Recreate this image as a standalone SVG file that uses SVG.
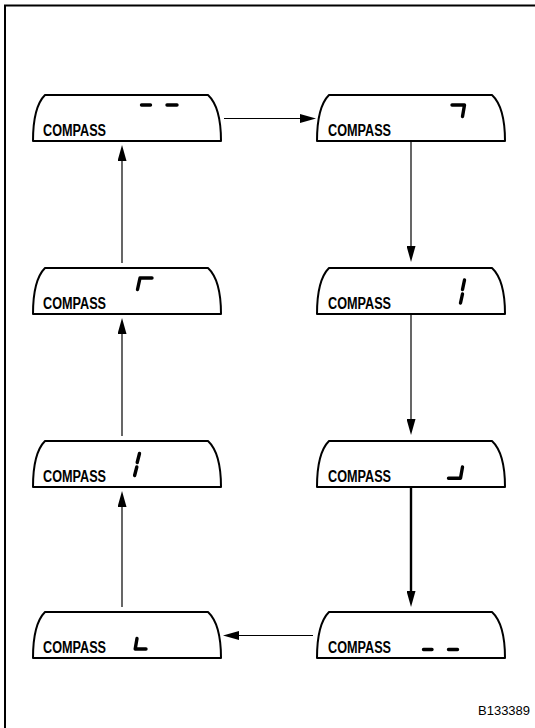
<svg xmlns="http://www.w3.org/2000/svg" xmlns:xlink="http://www.w3.org/1999/xlink" width="535" height="728" viewBox="0 0 535 728">
<style>
.disp{fill:#fff;stroke:#000;stroke-width:2;stroke-linejoin:round}
.lbl{font-family:"Liberation Sans",Arial,sans-serif;font-weight:bold;font-size:16.8px;fill:#000}
.seg{fill:none;stroke:#000;stroke-width:3.4;stroke-linecap:round;stroke-linejoin:round}
.conn{fill:none;stroke:#000;stroke-width:1.2}
.thick{stroke-width:2.4}
.code{font-family:"Liberation Sans",Arial,sans-serif;font-size:13px;fill:#000}
</style>
<defs>
<path id="disp" d="M45,95 H208 C215.5,102 221,114 221,141 H33 C33,114 38,102 45,95 Z"/>
<marker id="ah" viewBox="0 0 16 9" refX="6" refY="4.5" markerWidth="16" markerHeight="9" markerUnits="userSpaceOnUse" orient="auto">
<path d="M0,0 L16,4.5 L0,9 Z" fill="#000"/>
</marker>
</defs>
<rect width="535" height="728" fill="#fff"/>
<path d="M5,728 V5.5 H535" fill="none" stroke="#000" stroke-width="2"/>

<g id="n1">
<use xlink:href="#disp" class="disp"/>
<text class="lbl" x="43" y="135.5" textLength="63" lengthAdjust="spacingAndGlyphs">COMPASS</text>
<path class="seg" d="M141.5,105 H150.5 M167,105 H177"/>
</g>
<g id="n2" transform="translate(284,0)">
<use xlink:href="#disp" class="disp"/>
<text class="lbl" x="44" y="135.5" textLength="63" lengthAdjust="spacingAndGlyphs">COMPASS</text>
<path class="seg" d="M168,105 H180.5 L178.5,116.5"/>
</g>
<g id="n3" transform="translate(284,173)">
<use xlink:href="#disp" class="disp"/>
<text class="lbl" x="44" y="135.5" textLength="63" lengthAdjust="spacingAndGlyphs">COMPASS</text>
<path class="seg" d="M180.5,107 L178.5,116.5 M178.5,121 L176.5,130"/>
</g>
<g id="n4" transform="translate(284,346)">
<use xlink:href="#disp" class="disp"/>
<text class="lbl" x="44" y="135.5" textLength="63" lengthAdjust="spacingAndGlyphs">COMPASS</text>
<path class="seg" d="M178.5,121 L176.5,132.3 H164.5"/>
</g>
<g id="n5" transform="translate(284,517)">
<use xlink:href="#disp" class="disp"/>
<text class="lbl" x="44" y="135.5" textLength="63" lengthAdjust="spacingAndGlyphs">COMPASS</text>
<path class="seg" d="M139.5,132.5 H148 M164.5,132.5 H173.5"/>
</g>
<g id="n6" transform="translate(0,517)">
<use xlink:href="#disp" class="disp"/>
<text class="lbl" x="43" y="135.5" textLength="63" lengthAdjust="spacingAndGlyphs">COMPASS</text>
<path class="seg" d="M137,121.5 L135.2,132 H146"/>
</g>
<g id="n7" transform="translate(0,346)">
<use xlink:href="#disp" class="disp"/>
<text class="lbl" x="43" y="135.5" textLength="63" lengthAdjust="spacingAndGlyphs">COMPASS</text>
<path class="seg" d="M139.5,107.5 L137.2,116.5 M136.8,121 L134.6,129.5"/>
</g>
<g id="n8" transform="translate(0,173)">
<use xlink:href="#disp" class="disp"/>
<text class="lbl" x="43" y="135.5" textLength="63" lengthAdjust="spacingAndGlyphs">COMPASS</text>
<path class="seg" d="M137.5,116.5 L140,105 H152"/>
</g>

<g id="connectors">
<path class="conn" d="M224,118.5 H306" marker-end="url(#ah)"/>
<path class="conn" d="M411,141 V252" marker-end="url(#ah)"/>
<path class="conn" d="M411,314 V425" marker-end="url(#ah)"/>
<path class="conn thick" d="M411,487 V597" marker-end="url(#ah)"/>
<path class="conn" d="M313,635.5 H233" marker-end="url(#ah)"/>
<path class="conn" d="M122,607 V501" marker-end="url(#ah)"/>
<path class="conn" d="M122,436 V328" marker-end="url(#ah)"/>
<path class="conn" d="M122,263 V155" marker-end="url(#ah)"/>
</g>

<text class="code" x="478" y="715">B133389</text>
</svg>
